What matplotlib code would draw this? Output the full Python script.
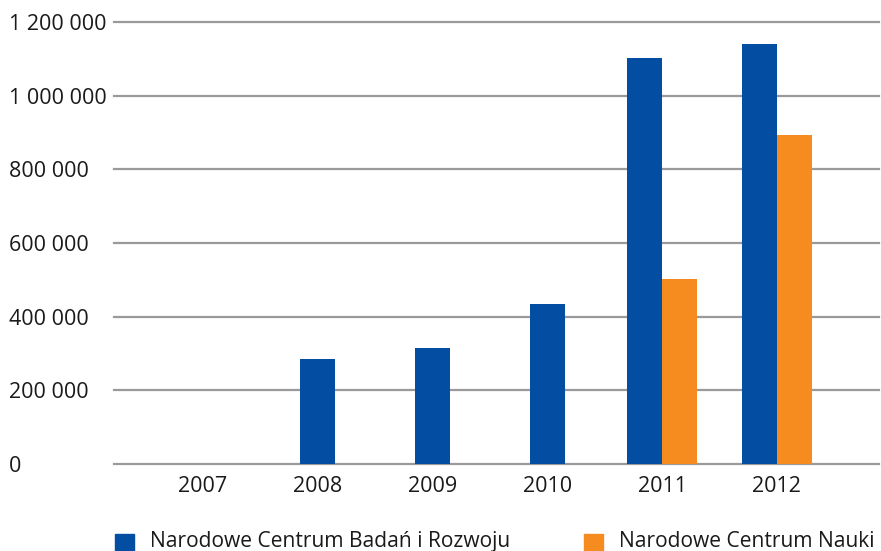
import matplotlib.pyplot as plt
from matplotlib.patches import Rectangle
from matplotlib.ticker import FuncFormatter

plt.rcParams['font.family'] = ['Open Sans', 'DejaVu Sans']

# Dane
lata = ['2007', '2008', '2009', '2010', '2011', '2012']
ncbr = [0, 286000, 314000, 433500, 1103000, 1141500]
ncn = [0, 0, 0, 0, 501000, 894000]
etykiety = ['Narodowe Centrum Badań i Rozwoju', 'Narodowe Centrum Nauki']
kolory = ['#034EA2', '#F68B1F']
y_ticks = [0, 200000, 400000, 600000, 800000, 1000000, 1200000]

fig = plt.figure(figsize=(8.81, 5.51), dpi=100)
ax = fig.add_axes([114 / 881, 1 - 464 / 551, (879 - 114) / 881, (464 - 22) / 551])

w = 0.305
for i in range(len(lata)):
    if ncn[i] > 0:
        ax.bar(i - w / 2, ncbr[i], width=w, color=kolory[0], zorder=3)
        ax.bar(i + w / 2, ncn[i], width=w, color=kolory[1], zorder=3)
    elif ncbr[i] > 0:
        ax.bar(i, ncbr[i], width=w, color=kolory[0], zorder=3)

ax.set_xlim(-0.775, 5.89)
ax.set_ylim(0, 1200000)
ax.set_yticks(y_ticks)
ax.yaxis.set_major_formatter(FuncFormatter(lambda v, p: f'{v:,.0f}'.replace(',', ' ')))
ax.set_xticks(range(len(lata)))
ax.set_xticklabels(lata)

ax.grid(axis='y', color='#9a9a9c', linewidth=1.6, zorder=1)
for line in ax.get_ygridlines():
    line.set_clip_on(False)
for s in ax.spines.values():
    s.set_visible(False)

fs = 15.5
ax.tick_params(axis='y', length=0, pad=75.5, labelsize=fs, labelcolor='#1a1a1a')
for lab in ax.get_yticklabels():
    lab.set_horizontalalignment('left')
ax.tick_params(axis='x', length=0, pad=8.5, labelsize=fs, labelcolor='#1a1a1a')

# Legenda
for x0, x_txt, kol, tekst in [(115, 150, kolory[0], etykiety[0]), (584, 619, kolory[1], etykiety[1])]:
    fig.add_artist(Rectangle((x0 / 881, 1 - 553 / 551), 19 / 881, 19 / 551,
                             transform=fig.transFigure, color=kol, clip_on=False))
    fig.text(x_txt / 881, 1 - 547 / 551, tekst, fontsize=15.1, color='#1a1a1a',
             va='baseline', ha='left')

plt.savefig('out.png', dpi=100)
